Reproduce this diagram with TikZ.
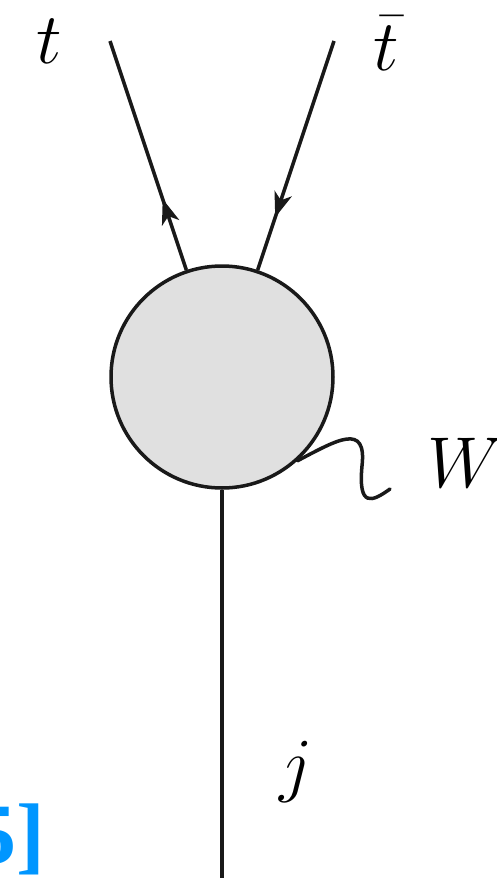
\RequirePackage{fix-cm}
\documentclass[tikz,border=0pt]{standalone}
\usepackage{fontspec}
\newfontfamily\citefont{Liberation Serif}
\usetikzlibrary{arrows.meta,decorations.markings}
\definecolor{citeblue}{RGB}{0,150,255}
\begin{document}
\begin{tikzpicture}[x=1pt,y=-1pt,
  line/.style={line width=3.5pt,draw=black!90},
  lbl/.style={font=\fontsize{72}{80}\selectfont,inner sep=0pt,anchor=base},
  fermionup/.style={line,postaction={decorate},decoration={markings,
      mark=at position #1 with {\arrow{Stealth[length=25pt,width=18pt,inset=7pt]}}}},
]
\useasboundingbox (0,0) rectangle (497,878);
\node[circle,line,fill=black!12,minimum size=222pt,inner sep=0pt] (blob) at (222,377) {};
\coordinate (tend) at (110,41);
\coordinate (tbend) at (334,41);
\coordinate (jend) at (222,878);
\coordinate (wend) at (390,489);
\draw[fermionup=0.31] (blob) -- (tend);
\draw[fermionup=0.77] (tbend) -- (blob);
\draw[line] (blob.south) -- (jend);
\draw[line,line cap=round] (blob.-48) .. controls (337,440) and (367,422) .. (362,466)
  .. controls (358,508) and (372,502) .. (wend);
\node[lbl] (tlab) at (49,63) {$t$};
\node[lbl] (tblab) at (386,70) {$\bar t$};
\node[lbl,anchor=base west] (wlab) at (427,487) {$W$};
\node[lbl] (jlab) at (296,788) {$j$};
\node[font=\citefont\bfseries\fontsize{86}{90}\selectfont,text=citeblue,anchor=base east,inner sep=0pt] (cite) at (45,863) {5]};
\end{tikzpicture}
\end{document}
